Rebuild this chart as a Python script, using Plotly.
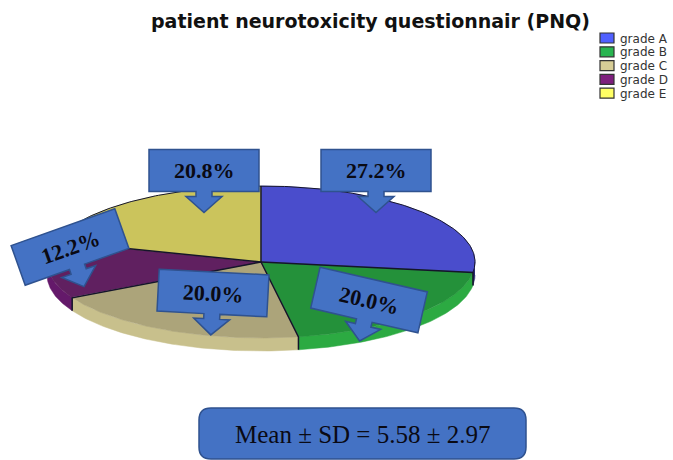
import numpy as np
import plotly.graph_objects as go

categories = ["grade A", "grade B", "grade C", "grade D", "grade E"]
percent_values = [27.2, 20.0, 20.0, 12.2, 20.6]
percent_labels = ["27.2%", "20.0%", "20.0%", "12.2%", "20.8%"]
face_colors = ["#4A4DCC", "#24913A", "#ACA47A", "#602060", "#CBC45C"]
wall_colors = ["#2A2A70", "#2CAA42", "#C8C08C", "#64196A", "#8A8540"]
legend_colors = ["#5060FF", "#28B450", "#D7CD96", "#7D1E7D", "#FFFF64"]
title_text = "patient neurotoxicity questionnair (PNQ)"
summary_text = "Mean ± SD = 5.58 ± 2.97"

CX, CY, RX, RY, DEPTH = 261, 262, 214, 76, 13
CALLOUTS = {  # label index: centre x, centre y, rotation in degrees
    0: (376, 170.5, 0), 4: (204, 170.5, 0), 3: (70, 247, -19.5),
    2: (213, 293, 3), 1: (369, 300, 13),
}
W, H = 110, 42
SHAFT, HEAD, NECK, TIP = 8, 18, 5, 21
EDGE = "#15152A"


def ex(t):
    return CX + RX * np.sin(t)


def ey(t):
    return CY - RY * np.cos(t)


fig = go.Figure()
cum = np.concatenate([[0], np.cumsum(percent_values)]) / sum(percent_values) * 2 * np.pi

# side wall (only the front half of the rim is visible)
for i, name in enumerate(categories):
    a, b = max(cum[i], np.pi / 2), min(cum[i + 1], 3 * np.pi / 2)
    if a >= b:
        continue
    t = np.linspace(a, b, 80)
    x = np.concatenate([ex(t), ex(t[::-1])])
    y = np.concatenate([ey(t), ey(t[::-1]) + DEPTH])
    fig.add_trace(go.Scatter(x=x, y=y, mode="lines", fill="toself",
                             fillcolor=wall_colors[i],
                             line=dict(color=wall_colors[i], width=0.5),
                             hoverinfo="skip", showlegend=False))

# top faces
for i, name in enumerate(categories):
    t = np.linspace(cum[i], cum[i + 1], 120)
    x = np.concatenate([[CX], ex(t), [CX]])
    y = np.concatenate([[CY], ey(t), [CY]])
    fig.add_trace(go.Scatter(x=x, y=y, mode="lines", fill="toself", name=name,
                             fillcolor=face_colors[i],
                             line=dict(color=face_colors[i], width=0.5),
                             showlegend=False))

# slice dividers, with a short drop down the rim on the front boundaries
div_x, div_y = [], []
for b in cum[:-1]:
    front = np.pi / 2 < b < 3 * np.pi / 2
    div_x += [CX, ex(b), ex(b) if front else ex(b), None]
    div_y += [CY, ey(b), ey(b) + (DEPTH if front else 0), None]
fig.add_trace(go.Scatter(x=div_x, y=div_y, mode="lines", line=dict(color=EDGE, width=1.5),
                         hoverinfo="skip", showlegend=False))

# dark rim along the back half and right shoulder of the disc
t = np.linspace(-np.pi / 2, cum[1], 200)
fig.add_trace(go.Scatter(x=ex(t), y=ey(t), mode="lines", line=dict(color=EDGE, width=1),
                         hoverinfo="skip", showlegend=False))

shapes = []
annotations = []

# callouts
for i, (cx, cy, deg) in CALLOUTS.items():
    pts = [(-W / 2, -H / 2), (W / 2, -H / 2), (W / 2, H / 2), (SHAFT, H / 2),
           (SHAFT, H / 2 + NECK), (HEAD, H / 2 + NECK), (0, H / 2 + TIP),
           (-HEAD, H / 2 + NECK), (-SHAFT, H / 2 + NECK), (-SHAFT, H / 2), (-W / 2, H / 2)]
    r = np.radians(deg)
    path = []
    for px, py in pts:
        path.append(f"{cx + px * np.cos(r) - py * np.sin(r):.1f},{cy + px * np.sin(r) + py * np.cos(r):.1f}")
    shapes.append(dict(type="path", path="M" + " L".join(path) + " Z", xref="x", yref="y",
                       fillcolor="#4472C4", line=dict(color="#2F528F", width=1.5), layer="above"))
    annotations.append(dict(x=cx, y=cy, xref="x", yref="y", text=f"<b>{percent_labels[i]}</b>",
                            textangle=deg, showarrow=False,
                            font=dict(family="Liberation Serif", size=22, color="#0A0A14")))

# summary box
shapes.append(dict(type="path", xref="x", yref="y",
                   path="M211,408 L514,408 Q526,408 526,420 L526,447 Q526,459 514,459 "
                        "L211,459 Q199,459 199,447 L199,420 Q199,408 211,408 Z",
                   fillcolor="#4472C4", line=dict(color="#2F528F", width=1.5), layer="above"))
annotations.append(dict(x=362, y=434, xref="x", yref="y", text=summary_text, showarrow=False,
                        font=dict(family="Liberation Serif", size=25, color="#0A0A14")))

# title
annotations.append(dict(x=370, y=21, xref="x", yref="y", text=f"<b>{title_text}</b>", showarrow=False,
                        font=dict(family="DejaVu Sans", size=19, color="#111111")))

# legend
for i, name in enumerate(categories):
    top = 33 + i * 13.8
    shapes.append(dict(type="rect", x0=600, x1=614, y0=top, y1=top + 10, xref="x", yref="y",
                       fillcolor=legend_colors[i], line=dict(color="#333333", width=1.2)))
    annotations.append(dict(x=618, y=top + 5.5, xref="x", yref="y", text=name, showarrow=False,
                            xanchor="left", font=dict(family="DejaVu Sans", size=12, color="#333333")))

fig.update_layout(
    width=673, height=460, margin=dict(l=0, r=0, t=0, b=0),
    paper_bgcolor="white", plot_bgcolor="white",
    xaxis=dict(range=[0, 673], visible=False, fixedrange=True),
    yaxis=dict(range=[460, 0], visible=False, fixedrange=True),
    shapes=shapes, annotations=annotations, showlegend=False,
)
fig.write_html("out.html", config=dict(displayModeBar=False),
               post_script="document.body.style.margin='0';document.body.style.overflow='hidden';")
